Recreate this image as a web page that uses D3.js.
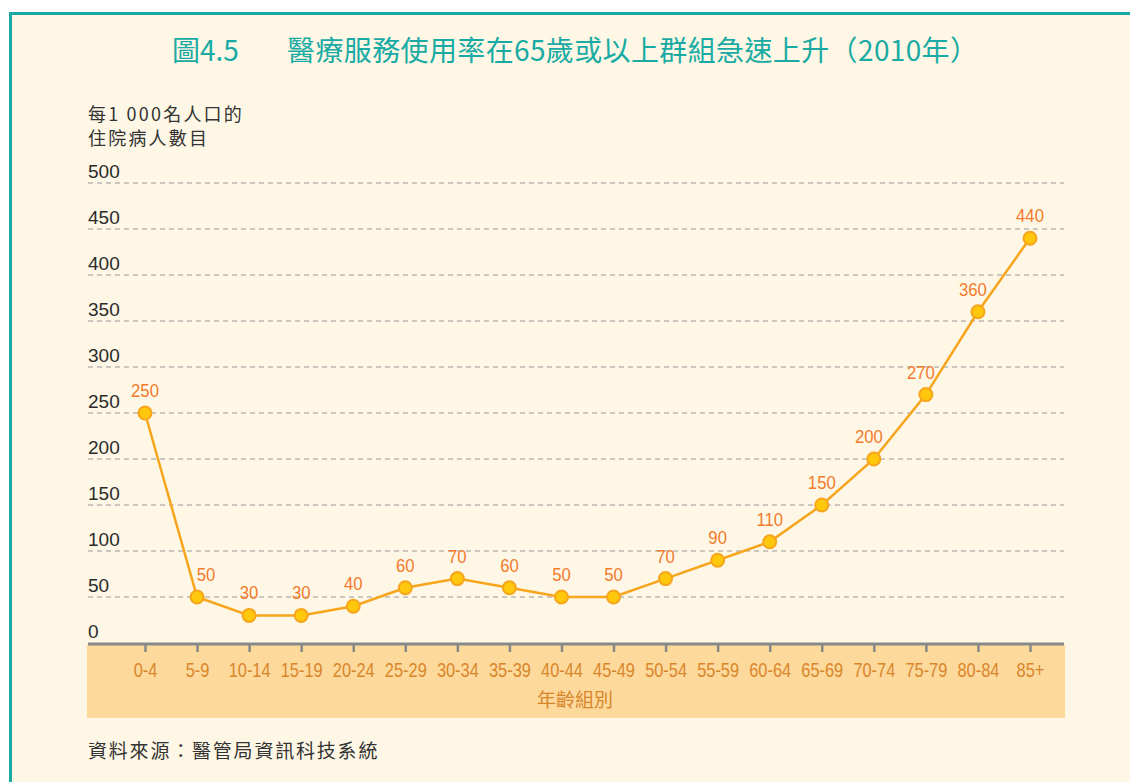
<!DOCTYPE html>
<html>
<head>
<meta charset="utf-8">
<script src="https://cdn.jsdelivr.net/npm/d3@7"></script>
<style>
  html, body { margin: 0; padding: 0; background: #ffffff; }
  svg { display: block; }
</style>
</head>
<body>
<svg id="chart" width="1130" height="782"></svg>
<script>
// chart data
const ageGroups = ["0-4", "5-9", "10-14", "15-19", "20-24", "25-29", "30-34", "35-39", "40-44",
  "45-49", "50-54", "55-59", "60-64", "65-69", "70-74", "75-79", "80-84", "85+"];
const admissions = [250, 50, 30, 30, 40, 60, 70, 60, 50, 50, 70, 90, 110, 150, 200, 270, 360, 440];
const yTicks = [0, 50, 100, 150, 200, 250, 300, 350, 400, 450, 500];

const figNo = "圖4.5";
const titleText = "醫療服務使用率在65歲或以上群組急速上升（2010年）";
const yTitle = ["每1 000名人口的", "住院病人數目"];
const xTitle = "年齡組別";
const sourceText = "資料來源：醫管局資訊科技系統";

const svg = d3.select("#chart");
const latin = "'Liberation Sans', Arial, sans-serif";
const cjk = "'Noto Sans CJK TC', 'Noto Sans', sans-serif";

// background panel with teal frame
svg.append("rect")
  .attr("x", 10.5).attr("y", 13.5)
  .attr("width", 1140).attr("height", 800)
  .style("fill", "#fef7e6")
  .style("stroke", "#19aba3")
  .style("stroke-width", 3);

const left = 88, right = 1064;
const y = d3.scaleLinear().domain([0, 500]).range([643, 183]);
const x = d3.scalePoint().domain(ageGroups).range([145, 1030]);

// title
svg.append("text")
  .attr("x", 172).attr("y", 61)
  .style("font-family", cjk)
  .style("font-size", "28px")
  .style("fill", "#19aba3")
  .text(figNo);

svg.append("text")
  .attr("x", 287).attr("y", 61)
  .attr("textLength", 691)
  .attr("lengthAdjust", "spacing")
  .style("font-family", cjk)
  .style("font-size", "28px")
  .style("fill", "#19aba3")
  .text(titleText);

// y title
svg.selectAll("text.ytitle")
  .data(yTitle)
  .enter()
  .append("text")
  .attr("class", "ytitle")
  .attr("x", left).attr("y", (d, i) => 121 + i * 24)
  .style("font-family", cjk)
  .style("font-size", "18px")
  .style("letter-spacing", "2.2px")
  .style("fill", "#333")
  .text(d => d);

// x axis band
svg.append("rect")
  .attr("x", 87).attr("y", 645)
  .attr("width", 978).attr("height", 73)
  .style("fill", "#fdd99c");

// grid lines
svg.selectAll("line.grid")
  .data(yTicks.filter(d => d > 0))
  .enter()
  .append("line")
  .attr("class", "grid")
  .attr("x1", left).attr("x2", right)
  .attr("y1", d => y(d)).attr("y2", d => y(d))
  .style("stroke", "#9a9a9a")
  .style("stroke-width", 1.2)
  .style("stroke-dasharray", "5,4");

// y tick labels
svg.selectAll("text.ytick")
  .data(yTicks)
  .enter()
  .append("text")
  .attr("class", "ytick")
  .attr("x", left).attr("y", d => y(d) - 5)
  .style("font-family", latin)
  .style("font-size", "19px")
  .style("fill", "#2b2b2b")
  .text(d => d);

// x axis
const xAxis = svg.append("g")
  .attr("transform", "translate(0, 644)")
  .call(d3.axisBottom(x).tickSize(8).tickPadding(11));
xAxis.select(".domain")
  .attr("d", `M${left},0H${right}`)
  .style("stroke", "#888")
  .style("stroke-width", 3);
xAxis.selectAll(".tick line")
  .style("stroke", "#888")
  .style("stroke-width", 2.5);
xAxis.selectAll(".tick text")
  .attr("transform", "scale(0.82,1)")
  .style("font-family", latin)
  .style("font-size", "20px")
  .style("fill", "#d9862b");

// x title
svg.append("text")
  .attr("x", 575).attr("y", 707)
  .attr("text-anchor", "middle")
  .style("font-family", cjk)
  .style("font-size", "19px")
  .style("fill", "#d9862b")
  .text(xTitle);

// line
const line = d3.line()
  .x((d, i) => x(ageGroups[i]))
  .y(d => y(d));

svg.append("path")
  .datum(admissions)
  .attr("d", line)
  .style("fill", "none")
  .style("stroke", "#f7a51c")
  .style("stroke-width", 2.5);

// points
svg.selectAll("circle.pt")
  .data(admissions)
  .enter()
  .append("circle")
  .attr("class", "pt")
  .attr("cx", (d, i) => x(ageGroups[i]))
  .attr("cy", d => y(d))
  .attr("r", 6.5)
  .style("fill", "#ffc80c")
  .style("stroke", "#f7a51c")
  .style("stroke-width", 2);

// value labels (nudged off the line where it is steep)
function labelDx(i) {
  if (i === 1) return 9;
  if (i >= 14 && i <= 16) return -5;
  return 0;
}
svg.selectAll("text.val")
  .data(admissions)
  .enter()
  .append("text")
  .attr("class", "val")
  .attr("transform", (d, i) => `translate(${x(ageGroups[i]) + labelDx(i)},${y(d) - 16}) scale(0.88,1)`)
  .attr("text-anchor", "middle")
  .style("font-family", latin)
  .style("font-size", "19px")
  .style("fill", "#f37a2c")
  .text(d => d);

// source
svg.append("text")
  .attr("x", left).attr("y", 758)
  .style("font-family", cjk)
  .style("font-size", "19px")
  .style("letter-spacing", "1.8px")
  .style("fill", "#333")
  .text(sourceText);
</script>
</body>
</html>
